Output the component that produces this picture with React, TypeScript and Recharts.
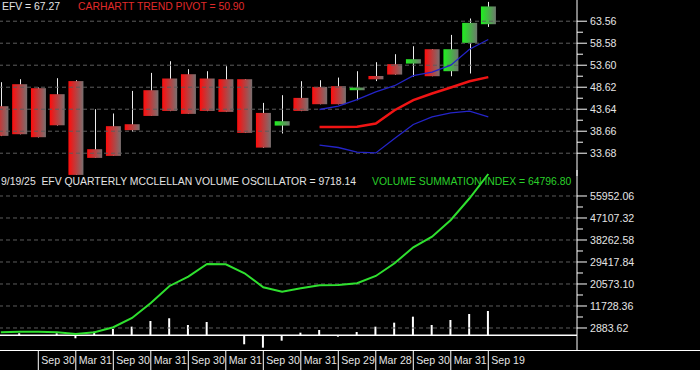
import { Bar, ComposedChart, Line, ReferenceLine, XAxis, YAxis } from 'recharts'

// quarter-end dates, one per candle
const quarterEnds = [
  'Mar 29', 'Jun 28', 'Sep 30', 'Dec 31', 'Mar 31', 'Jun 30', 'Sep 30', 'Dec 31', 'Mar 31',
  'Jun 30', 'Sep 30', 'Dec 31', 'Mar 31', 'Jun 30', 'Sep 30', 'Dec 30', 'Mar 31', 'Jun 30',
  'Sep 29', 'Dec 29', 'Mar 28', 'Jun 28', 'Sep 30', 'Dec 31', 'Mar 31', 'Jun 30', 'Sep 19',
]

const opens = [44.32, 49.3, 48.4, 47.04, 50.0, 34.59, 39.8, 40.24, 47.94, 50.59, 51.56, 50.59, 50.43, 50.43, 42.8, 39.93, 46.2, 48.69, 48.85, 47.94, 51.16, 53.83, 53.97, 57.22, 52.24, 58.65, 62.88]
const highs = [49.75, 50.43, 48.55, 50.66, 50.2, 43.64, 42.67, 47.78, 51.86, 54.5, 52.7, 52.24, 53.37, 50.45, 45.07, 46.81, 49.98, 50.2, 50.8, 52.24, 54.28, 56.09, 57.9, 57.25, 60.46, 64.17, 67.93]
const lows = [37.55, 37.95, 37.25, 39.95, 28.75, 32.6, 33.05, 38.5, 42.1, 43.2, 42.55, 43.2, 43.0, 38.25, 34.9, 38.14, 43.2, 44.75, 44.75, 45.67, 50.0, 51.45, 51.0, 51.1, 51.11, 51.72, 62.27]
const closes = [37.6, 37.98, 37.3, 40.0, 28.77, 32.62, 33.07, 38.89, 42.12, 43.25, 42.58, 43.25, 43.03, 38.28, 34.95, 40.92, 43.25, 44.77, 44.77, 48.55, 50.41, 51.48, 54.96, 51.11, 57.22, 63.18, 66.9]

// trend pivot bands start at candle 17
const bandStart = 17
const upperBand = [43.57, 44.32, 45.79, 47.56, 48.96, 51.22, 52.02, 53.6, 57.22, 59.42]
const pivot = [39.63, 39.63, 39.68, 40.4, 43.41, 45.68, 47.19, 48.55, 49.98, 50.9]
const lowerBand = [35.49, 34.97, 33.91, 33.75, 37.01, 40.18, 41.9, 42.8, 43.19, 41.9]

const oscillator = [0, 764, 0, 764, -1246, 1407, 2493, 3417, 5709, 6794, 4101, 5307, 0, -3659, -5025, -2211, 1005, 2091, -603, 1287, 3417, 5025, 7438, 4101, 6111, 8523, 9718.14]
const summation = [1166, 1407, 1407, 1166, 482, 1166, 3200, 6900, 12900, 19780, 23519, 28625, 28504, 24886, 19257, 17488, 18855, 20061, 20182, 20865, 23800, 28906, 35339, 39600, 46314, 55038, 64796.8]

const priceTicks = [33.68, 38.66, 43.64, 48.62, 53.6, 58.58, 63.56]
const volumeTicks = [2883.62, 11728.36, 20573.1, 29417.84, 38262.58, 47107.32, 55952.06]
const labelIdx = [2, 4, 6, 8, 10, 12, 14, 16, 18, 20, 22, 24, 26]

const X_DOMAIN = [-0.0427, 30.731]
const FONT = '"Liberation Sans", Arial, sans-serif'
const TEXT = '#e4e4e4'
const GRID = '#5c5c5c'

const withMinors = (majors: number[]) => {
  const out: number[] = []
  majors.forEach((v, k) => {
    out.push(v)
    if (k < majors.length - 1) out.push((v + majors[k + 1]) / 2)
  })
  return out
}

const candles = quarterEnds.map((d, i) => ({
  i,
  date: d,
  open: opens[i],
  high: highs[i],
  low: lows[i],
  close: closes[i],
  range: [lows[i], highs[i]],
  upper: i >= bandStart ? upperBand[i - bandStart] : null,
  pivot: i >= bandStart ? pivot[i - bandStart] : null,
  lower: i >= bandStart ? lowerBand[i - bandStart] : null,
}))

const volume = quarterEnds.map((d, i) => ({ i, date: d, osc: oscillator[i], vsi: summation[i] }))

function Candle(props: any) {
  const { x, y, width, height, payload } = props
  const top0 = Math.min(y, y + height)
  const h = Math.abs(height)
  const k = h / (payload.high - payload.low)
  const bTop = top0 + (payload.high - Math.max(payload.open, payload.close)) * k
  const bBot = top0 + (payload.high - Math.min(payload.open, payload.close)) * k
  const cx = Math.round(x + width / 2) + 0.5
  const up = payload.close > payload.open
  return (
    <g>
      <line x1={cx} x2={cx} y1={top0} y2={top0 + h} stroke="#ececec" strokeWidth={1} />
      <rect x={x} y={bTop} width={width} height={Math.max(bBot - bTop, 1)} fill={up ? 'url(#gUp)' : 'url(#gDown)'} />
    </g>
  )
}

function ValueTick(props: any) {
  const { x, y, payload, majors } = props
  const major = majors.some((m: number) => Math.abs(m - payload.value) < 1e-6)
  return (
    <g>
      <line x1={x} x2={x + (major ? 10 : 6)} y1={y} y2={y} stroke="#fff" />
      {major && (
        <text x={x + 13} y={y + 4} fill={TEXT} fontSize={10.6} fontFamily={FONT}>
          {payload.value.toFixed(2)}
        </text>
      )}
    </g>
  )
}

function DateTick(props: any) {
  const { x, y, payload } = props
  return (
    <g>
      <line x1={x} x2={x} y1={y} y2={y + 20} stroke="#fff" />
      <text x={x + 3} y={y + 13.5} fill={TEXT} fontSize={10.6} fontFamily={FONT}>
        {quarterEnds[payload.value]}
      </text>
    </g>
  )
}

const label = (left: number, top: number, color: string): React.CSSProperties => ({
  position: 'absolute',
  left,
  top,
  color,
  fontFamily: FONT,
  fontSize: 10.4,
  lineHeight: '12px',
  whiteSpace: 'pre',
})

export default function App() {
  return (
    <div style={{ position: 'absolute', left: 0, top: 0, width: 700, height: 370, background: '#000', overflow: 'hidden' }}>
      <div style={{ position: 'absolute', left: 0, top: 170 }}>
        <ComposedChart width={700} height={200} data={volume} margin={{ top: 0, right: 0, bottom: 0, left: 0 }}>
          <XAxis
            dataKey="i"
            type="number"
            domain={X_DOMAIN}
            allowDataOverflow
            ticks={labelIdx}
            interval={0}
            height={20}
            tickSize={0}
            tickMargin={0}
            axisLine={false}
            tickLine={false}
            tick={(p: any) => <DateTick {...p} />}
          />
          <YAxis
            orientation="right"
            width={123}
            domain={[-5961.2, 66404.9]}
            allowDataOverflow
            ticks={withMinors(volumeTicks)}
            interval={0}
            tickSize={0}
            tickMargin={0}
            tickLine={false}
            axisLine={{ stroke: '#fff' }}
            tick={(p: any) => <ValueTick {...p} majors={volumeTicks} />}
          />
          {volumeTicks.map((v) => (
            <ReferenceLine key={v} y={v} stroke={GRID} strokeDasharray="4 3" />
          ))}
          <ReferenceLine y={0} stroke="#fff" strokeWidth={1.5} />
          <Bar dataKey="osc" barSize={2} fill="#fff" isAnimationActive={false} />
          <Line dataKey="vsi" stroke="#2fe02f" strokeWidth={2} dot={false} isAnimationActive={false} />
        </ComposedChart>
      </div>

      <div style={{ position: 'absolute', left: 0, top: 0 }}>
        <ComposedChart width={700} height={176} data={candles} margin={{ top: 0, right: 0, bottom: 0, left: 0 }}>
          <defs>
            <linearGradient id="gDown" x1="0" y1="0" x2="1" y2="0">
              <stop offset="0%" stopColor="#ff0c0c" />
              <stop offset="100%" stopColor="#787070" />
            </linearGradient>
            <linearGradient id="gUp" x1="0" y1="0" x2="1" y2="0">
              <stop offset="0%" stopColor="#1ef01e" />
              <stop offset="100%" stopColor="#6e786e" />
            </linearGradient>
          </defs>
          <XAxis dataKey="i" type="number" domain={X_DOMAIN} allowDataOverflow hide />
          <YAxis
            orientation="right"
            width={123}
            domain={[28.52, 68.36]}
            allowDataOverflow
            ticks={withMinors(priceTicks)}
            interval={0}
            tickSize={0}
            tickMargin={0}
            tickLine={false}
            axisLine={{ stroke: '#fff' }}
            tick={(p: any) => <ValueTick {...p} majors={priceTicks} />}
          />
          {priceTicks.map((v) => (
            <ReferenceLine key={v} y={v} stroke={GRID} strokeDasharray="4 3" />
          ))}
          <Bar dataKey="range" barSize={15} shape={(p: any) => <Candle {...p} />} isAnimationActive={false} />
          <Line dataKey="upper" stroke="#2424c8" strokeWidth={1.3} dot={false} isAnimationActive={false} />
          <Line dataKey="pivot" stroke="#f01414" strokeWidth={2.5} dot={false} isAnimationActive={false} />
          <Line dataKey="lower" stroke="#2424c8" strokeWidth={1.3} dot={false} isAnimationActive={false} />
        </ComposedChart>
      </div>

      <div style={{ position: 'absolute', left: 0, top: 350, width: 700, height: 1, background: '#fff' }} />

      <div style={label(2, 1, TEXT)}>EFV = 67.27</div>
      <div style={label(78, 1, '#e02a2a')}>CARHARTT TREND PIVOT = 50.90</div>
      <div style={label(1, 176, TEXT)}>9/19/25  EFV QUARTERLY MCCLELLAN VOLUME OSCILLATOR = 9718.14</div>
      <div style={label(372, 176, '#2ad02a')}>VOLUME SUMMATION INDEX = 64796.80</div>
    </div>
  )
}
